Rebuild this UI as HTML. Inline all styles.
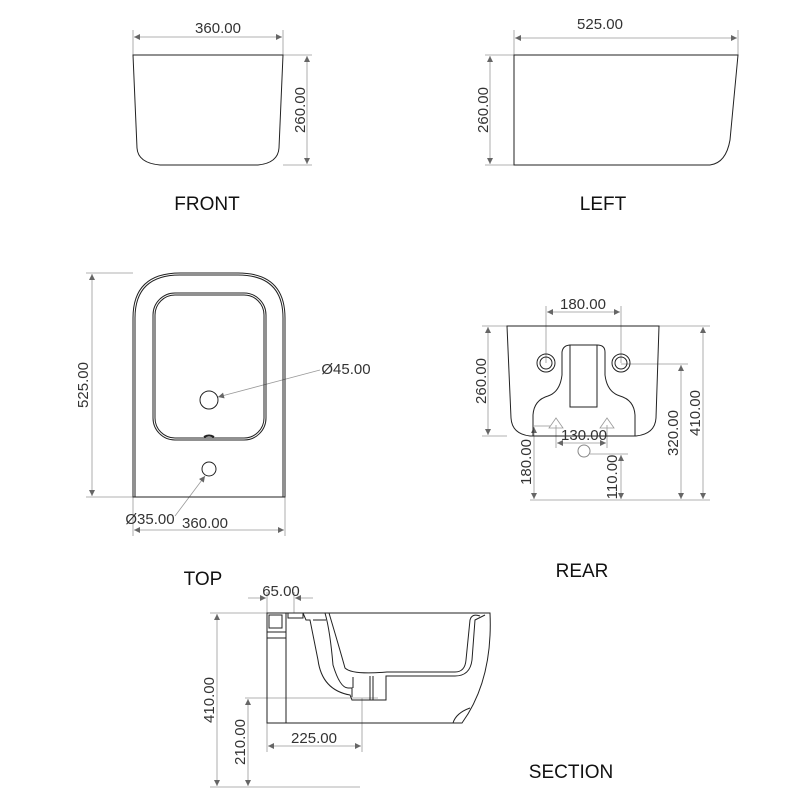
<!DOCTYPE html>
<html><head><meta charset="utf-8"><style>html,body{margin:0;padding:0;background:#fff}svg{display:block}text{font-family:"Liberation Sans",sans-serif;fill:#333}</style></head>
<body>
<svg width="800" height="800" viewBox="0 0 800 800" xmlns="http://www.w3.org/2000/svg">
<defs>
<marker id="a" viewBox="0 0 10 10" refX="10" refY="5" markerWidth="10" markerHeight="6" orient="auto-start-reverse" markerUnits="userSpaceOnUse"><path d="M0,0 L10,5 L0,10 z" fill="#666"/></marker>
</defs>
<g stroke="#999" stroke-width="0.8" fill="none">
<line x1="133" y1="30" x2="133" y2="55"/><line x1="283" y1="30" x2="283" y2="55"/>
<line x1="134" y1="37" x2="282" y2="37" marker-start="url(#a)" marker-end="url(#a)"/>
<line x1="283" y1="55" x2="312" y2="55"/><line x1="283" y1="165" x2="312" y2="165"/>
<line x1="307" y1="56" x2="307" y2="164" marker-start="url(#a)" marker-end="url(#a)"/>
<line x1="514" y1="30" x2="514" y2="55"/><line x1="738" y1="30" x2="738" y2="55"/>
<line x1="515" y1="38" x2="737" y2="38" marker-start="url(#a)" marker-end="url(#a)"/>
<line x1="485" y1="55" x2="514" y2="55"/><line x1="485" y1="165" x2="514" y2="165"/>
<line x1="490" y1="56" x2="490" y2="164" marker-start="url(#a)" marker-end="url(#a)"/>
<line x1="86" y1="273" x2="133" y2="273"/><line x1="86" y1="497" x2="133" y2="497"/>
<line x1="92" y1="274" x2="92" y2="496" marker-start="url(#a)" marker-end="url(#a)"/>
<line x1="133" y1="497" x2="133" y2="536"/><line x1="285" y1="497" x2="285" y2="536"/>
<line x1="134" y1="530" x2="284" y2="530" marker-start="url(#a)" marker-end="url(#a)"/>
<line x1="320" y1="370" x2="218" y2="397" marker-end="url(#a)"/>
<line x1="175" y1="516" x2="205" y2="476" marker-end="url(#a)"/>
<line x1="546" y1="306" x2="546" y2="363"/><line x1="621" y1="306" x2="621" y2="363"/>
<line x1="547" y1="312" x2="620" y2="312" marker-start="url(#a)" marker-end="url(#a)"/>
<line x1="482" y1="326" x2="507" y2="326"/><line x1="482" y1="436" x2="507" y2="436"/>
<line x1="488" y1="327" x2="488" y2="435" marker-start="url(#a)" marker-end="url(#a)"/>
<line x1="659" y1="326" x2="710" y2="326"/><line x1="621" y1="364" x2="688" y2="364"/>
<line x1="703" y1="327" x2="703" y2="499" marker-start="url(#a)" marker-end="url(#a)"/>
<line x1="681" y1="365" x2="681" y2="499" marker-start="url(#a)" marker-end="url(#a)"/>
<line x1="530" y1="500" x2="710" y2="500"/>
<line x1="534" y1="426" x2="550" y2="426"/>
<line x1="534" y1="427" x2="534" y2="499" marker-start="url(#a)" marker-end="url(#a)"/>
<line x1="590" y1="454" x2="628" y2="454"/>
<line x1="621" y1="455" x2="621" y2="499" marker-start="url(#a)" marker-end="url(#a)"/>
<line x1="556" y1="425" x2="556" y2="448"/><line x1="607" y1="425" x2="607" y2="448"/>
<line x1="557" y1="443" x2="606" y2="443" marker-start="url(#a)" marker-end="url(#a)"/>
<path d="M549,428 L556,418 L563,428 Z M600,428 L607,418 L614,428 Z"/>
<line x1="267" y1="592" x2="267" y2="613"/><line x1="294" y1="592" x2="294" y2="613"/>
<line x1="248" y1="598" x2="266" y2="598" marker-end="url(#a)"/><line x1="313" y1="598" x2="295" y2="598" marker-end="url(#a)"/>
<line x1="210" y1="613" x2="267" y2="613"/><line x1="210" y1="787" x2="360" y2="787"/>
<line x1="217" y1="614" x2="217" y2="786" marker-start="url(#a)" marker-end="url(#a)"/>
<line x1="245" y1="698" x2="378" y2="698"/>
<line x1="248" y1="699" x2="248" y2="786" marker-start="url(#a)" marker-end="url(#a)"/>
<line x1="267" y1="723" x2="267" y2="752"/><line x1="362" y1="698" x2="362" y2="752"/>
<line x1="268" y1="746" x2="361" y2="746" marker-start="url(#a)" marker-end="url(#a)"/>
</g>
<g stroke="#222" stroke-width="1" fill="none">
<path d="M133,55 L283,55 L279,148 Q278,163 258,165 L160,165 Q138,163 137,148 Z"/>
<path d="M514,55 L738,55 Q733,110 730,140 Q726,163 710,165 L514,165 Z"/>
<path d="M133,497 L133,318 Q133,273 180,273 L238,273 Q285,273 285,318 L285,497 Z"/>
<path d="M135,497 L135,318 Q135,275 180,275 L238,275 Q283,275 283,318 L283,497"/>
<rect x="153" y="293" width="113" height="147" rx="22"/>
<rect x="155" y="295" width="109" height="143" rx="20"/>
<circle cx="209" cy="400" r="9"/><circle cx="209" cy="469" r="7"/>
<path d="M204,437 Q209,434 214,437" stroke-width="2"/>
<path d="M507,326 L659,326 L656,418 Q655,434 636,436 L530,436 Q512,434 511,418 Z"/>
<path d="M533,436 L533,415 Q534,400 548,396 Q560,392 562,375 L562,352 Q563,345 571,345 L597,345 Q605,345 605,352 L605,375 Q607,392 620,396 Q634,400 635,415 L635,436"/>
<rect x="570" y="345" width="27" height="62"/>
<circle cx="546" cy="363" r="9"/><circle cx="546" cy="363" r="6"/>
<circle cx="621" cy="363" r="9"/><circle cx="621" cy="363" r="6"/>
<circle cx="584" cy="451" r="6" stroke="#888"/>
<path d="M267,613 L490,613 Q493,680 462,723 L267,723 Z"/>
<rect x="269" y="615" width="13" height="13"/>
<line x1="267" y1="632" x2="286" y2="632"/><line x1="267" y1="638" x2="286" y2="638"/>
<line x1="286" y1="613" x2="286" y2="723"/>
<rect x="288" y="613" width="15" height="5"/>
<path d="M303,613 L306,620 L310,620 L318,660 Q322,690 350,695 L352,700 L386,700 L386,676 L455,676 Q470,676 472,660 L475,620 L485,615"/>
<path d="M325,613 Q330,630 333,665 Q340,688 348,688 L352,688 L352,697"/>
<path d="M326,620 L313,620"/>
<path d="M325,613 L329,613 Q340,650 345,668 Q352,675 387,672 L455,672 Q465,672 466,660 L470,620 Q472,613 480,616"/>
<line x1="370" y1="676" x2="370" y2="700"/><line x1="373" y1="676" x2="373" y2="700"/>
<line x1="353" y1="677" x2="353" y2="688"/>
<path d="M453,723 Q456,713 470,708"/>
</g>
<g font-size="15">
<text x="218" y="33" text-anchor="middle">360.00</text>
<text x="600" y="29" text-anchor="middle">525.00</text>
<text transform="translate(305,110) rotate(-90)" text-anchor="middle">260.00</text>
<text transform="translate(488,110) rotate(-90)" text-anchor="middle">260.00</text>
<text transform="translate(88,385) rotate(-90)" text-anchor="middle">525.00</text>
<text x="205" y="528" text-anchor="middle">360.00</text>
<text x="346" y="374" text-anchor="middle">Ø45.00</text>
<text x="150" y="524" text-anchor="middle">Ø35.00</text>
<text x="583" y="309" text-anchor="middle">180.00</text>
<text transform="translate(486,381) rotate(-90)" text-anchor="middle">260.00</text>
<text transform="translate(700,413) rotate(-90)" text-anchor="middle">410.00</text>
<text transform="translate(678,433) rotate(-90)" text-anchor="middle">320.00</text>
<text transform="translate(531,462) rotate(-90)" text-anchor="middle">180.00</text>
<text transform="translate(617,477) rotate(-90)" text-anchor="middle">110.00</text>
<text x="584" y="440" text-anchor="middle">130.00</text>
<text x="281" y="596" text-anchor="middle">65.00</text>
<text transform="translate(214,700) rotate(-90)" text-anchor="middle">410.00</text>
<text transform="translate(245,742) rotate(-90)" text-anchor="middle">210.00</text>
<text x="314" y="743" text-anchor="middle">225.00</text>
</g>
<g font-size="19">
<text x="207" y="210" text-anchor="middle" style="fill:#111">FRONT</text>
<text x="603" y="210" text-anchor="middle" style="fill:#111">LEFT</text>
<text x="203" y="585" text-anchor="middle" style="fill:#111">TOP</text>
<text x="582" y="577" text-anchor="middle" style="fill:#111">REAR</text>
<text x="571" y="778" text-anchor="middle" style="fill:#111">SECTION</text>
</g>
</svg>
</body></html>
